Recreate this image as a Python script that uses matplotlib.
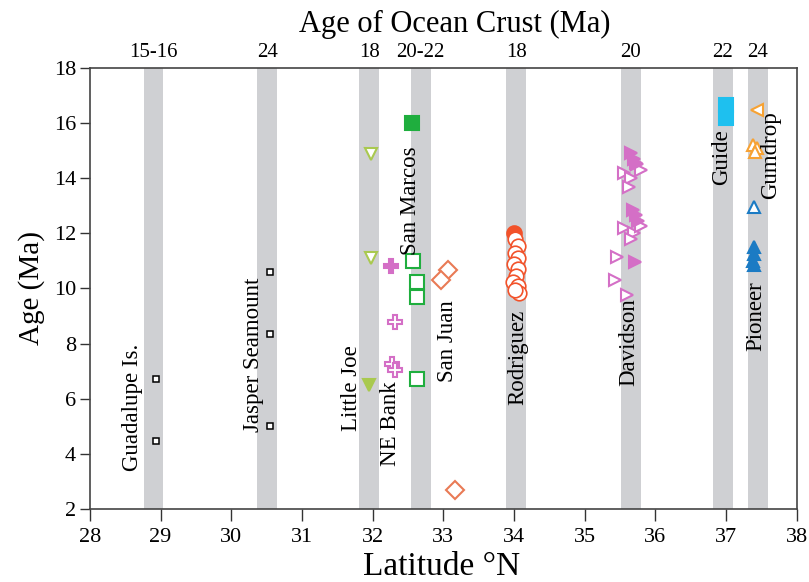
import matplotlib
matplotlib.use("Agg")
import matplotlib.pyplot as plt

plt.rcParams['font.family'] = ['Liberation Serif', 'DejaVu Serif']

# Seamount sample ages (Ma) against latitude (deg N)
band_centers = [28.9, 30.51, 31.95, 32.68, 34.03, 35.65, 36.95, 37.45]
crust_ages = ["15-16", "24", "18", "20-22", "18", "20", "22", "24"]

guadalupe_lat = [28.94, 28.94]
guadalupe_age = [6.7, 4.45]

jasper_lat = [30.55, 30.55, 30.55]
jasper_age = [10.6, 8.35, 5.0]

littlejoe_open_lat = [31.97, 31.97]
littlejoe_open_age = [14.87, 11.1]
littlejoe_fill_lat = [31.95]
littlejoe_fill_age = [6.5]

nebank_fill_lat = [32.26]
nebank_fill_age = [10.82]
nebank_open_lat = [32.32, 32.27, 32.31]
nebank_open_age = [8.77, 7.25, 7.05]

sanmarcos_fill_lat = [32.55]
sanmarcos_fill_age = [16.0]
sanmarcos_open_lat = [32.57, 32.63, 32.63, 32.63]
sanmarcos_open_age = [11.0, 10.25, 9.7, 6.72]

sanjuan_lat = [33.07, 32.96, 33.16]
sanjuan_age = [10.68, 10.3, 2.7]

rodriguez_fill_lat = [34.0]
rodriguez_fill_age = [12.03]
rodriguez_open_lat = [34.02, 34.05, 34.02, 34.05, 34.0, 34.06, 34.03, 33.99, 34.06, 34.07, 34.02]
rodriguez_open_age = [11.8, 11.55, 11.3, 11.1, 10.9, 10.7, 10.45, 10.25, 10.1, 9.85, 9.95]

davidson_fill_lat = [35.66, 35.7, 35.74, 35.68, 35.72, 35.76, 35.71]
davidson_fill_age = [14.9, 14.7, 14.5, 12.85, 12.65, 12.45, 10.95]
davidson_open_lat = [35.55, 35.66, 35.8, 35.62, 35.73, 35.56, 35.7, 35.8, 35.66, 35.45, 35.43, 35.6]
davidson_open_age = [14.2, 14.0, 14.3, 13.7, 14.55, 12.2, 12.0, 12.25, 11.8, 11.15, 10.3, 9.75]

guide_lat = [37.0, 37.0]
guide_age = [16.65, 16.2]

gumdrop_left_lat = [37.43]
gumdrop_left_age = [16.48]
gumdrop_up_lat = [37.38, 37.43, 37.41]
gumdrop_up_age = [15.22, 15.08, 14.95]

pioneer_open_lat = [37.39]
pioneer_open_age = [12.95]
pioneer_fill_lat = [37.39, 37.4, 37.38, 37.4]
pioneer_fill_age = [11.5, 11.25, 11.0, 10.85]

site_names = ["Guadalupe Is.", "Jasper Seamount", "Little Joe", "NE Bank", "San Marcos",
              "San Juan", "Rodriguez", "Davidson", "Guide", "Gumdrop", "Pioneer"]
label_lat = [28.61, 30.31, 31.7, 32.25, 32.54, 33.06, 34.05, 35.63, 36.94, 37.63, 37.42]
label_age = [5.68, 7.6, 6.4, 5.1, 13.2, 8.1, 7.5, 8.05, 14.77, 14.85, 9.0]

fig = plt.figure(figsize=(8.09, 5.82), dpi=100)
ax = fig.add_axes([0.111, 0.1254, 0.874, 0.7578])

ax.set_xlim(28, 38)
ax.set_ylim(2, 18)

for c in band_centers:
    ax.axvspan(c - 0.14, c + 0.14, color='#cfd0d3', lw=0, zorder=0)

def pts(lat, age, marker, color, filled, ms=9, mew=1.5, z=3):
    ax.plot(lat, age, ls='none', marker=marker, ms=ms, mew=mew,
            mec=color, mfc=color if filled else 'white', zorder=z)

pts(guadalupe_lat, guadalupe_age, 's', 'black', False, ms=4.5, mew=1.1)
pts(jasper_lat, jasper_age, 's', 'black', False, ms=4.5, mew=1.1)

lj = '#a9c94f'
pts(littlejoe_open_lat, littlejoe_open_age, 'v', lj, False, ms=9)
pts(littlejoe_fill_lat, littlejoe_fill_age, 'v', lj, True, ms=9)

pink = '#d46fc6'
pts(nebank_fill_lat, nebank_fill_age, 'P', pink, True, ms=10)
pts(nebank_open_lat, nebank_open_age, 'P', pink, False, ms=10)

green = '#1fae3e'
pts(sanmarcos_fill_lat, sanmarcos_fill_age, 's', green, True, ms=9.5)
pts(sanmarcos_open_lat, sanmarcos_open_age, 's', green, False, ms=9.5)

pts(sanjuan_lat, sanjuan_age, 'D', '#e97a55', False, ms=9)

red = '#f2522a'
pts(rodriguez_fill_lat, rodriguez_fill_age, 'o', red, True, ms=10.5)
pts(rodriguez_open_lat, rodriguez_open_age, 'o', red, False, ms=10.5, mew=1.2)

pts(davidson_open_lat, davidson_open_age, '>', pink, False, ms=9)
pts(davidson_fill_lat, davidson_fill_age, '>', pink, True, ms=9)

pts(guide_lat, guide_age, 's', '#1ec0ef', True, ms=10)

orange = '#f7a233'
pts(gumdrop_left_lat, gumdrop_left_age, '<', orange, False, ms=9)
pts(gumdrop_up_lat, gumdrop_up_age, '^', orange, False, ms=9)

blue = '#1b7bc4'
pts(pioneer_open_lat, pioneer_open_age, '^', blue, False, ms=9)
pts(pioneer_fill_lat, pioneer_fill_age, '^', blue, True, ms=9)

for name, x, y in zip(site_names, label_lat, label_age):
    ax.text(x, y, name, rotation=90, ha='center', va='center', fontsize=16.5, zorder=4)

ax.set_xticks(range(28, 39))
ax.set_yticks(range(2, 19, 2))
ax.tick_params(axis='both', direction='out', width=1, labelsize=16,
               colors='#333333', labelcolor='black')
ax.tick_params(axis='x', length=8.5, pad=5)
ax.tick_params(axis='y', length=7, pad=3)
for s in ax.spines.values():
    s.set_color('#444444')
    s.set_linewidth(1.2)
ax.set_xlabel('Latitude °N', fontsize=24)
ax.xaxis.set_label_coords(0.497, -0.096)
ax.set_ylabel('Age (Ma)', fontsize=21, labelpad=6)

top = ax.twiny()
top.set_xlim(ax.get_xlim())
top.set_xticks(band_centers)
top.set_xticklabels(crust_ages, fontsize=15)
top.tick_params(axis='x', length=0, pad=4)
top.set_xlabel('Age of Ocean Crust (Ma)', fontsize=22)
top.xaxis.set_label_coords(0.516, 1.081)
for s in top.spines.values():
    s.set_visible(False)

fig.savefig('out.png', dpi=100)
